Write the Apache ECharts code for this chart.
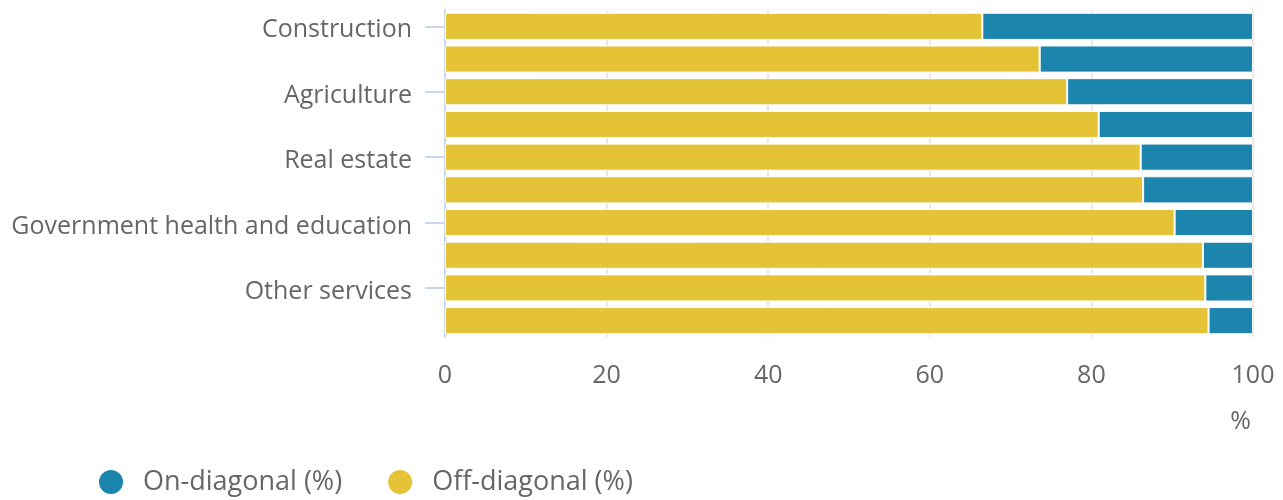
<!DOCTYPE html>
<html>
<head>
<meta charset="utf-8">
<script src="https://cdn.jsdelivr.net/npm/echarts@6/dist/echarts.min.js"></script>
<style>html,body{margin:0;padding:0;background:#fff}#c{width:1283px;height:500px}</style>
</head>
<body>
<div id="c"></div>
<script>
const categories = ['Construction','Mining','Agriculture','Manufacturing','Real estate','Transport','Government health and education','Trade','Other services','Finance'];
const offDiagonal = [66.5, 73.6, 77.0, 80.9, 86.1, 86.4, 90.3, 93.8, 94.1, 94.5];
const onDiagonal = [33.5, 26.4, 23.0, 19.1, 13.9, 13.6, 9.7, 6.2, 5.9, 5.5];
const xTicks = [0, 20, 40, 60, 80, 100];

const chart = echarts.init(document.getElementById('c'));
const font = 'Open Sans';
chart.setOption({
  animation: false,
  textStyle: { fontFamily: font },
  grid: { left: 445, right: 30, top: 10, bottom: 163, containLabel: false },
  legend: {
    left: 97, top: 468, padding: 0,
    itemWidth: 26, itemHeight: 26, itemGap: 44,
    icon: 'circle',
    data: ['On-diagonal (%)', 'Off-diagonal (%)'],
    textStyle: { fontFamily: font, fontSize: 27, color: '#666666', padding: [0, 0, 0, 14] }
  },
  xAxis: {
    type: 'value', min: xTicks[0], max: xTicks[xTicks.length - 1], interval: 20,
    name: '%', nameLocation: 'end', nameGap: 0,
    nameTextStyle: { fontFamily: font, fontSize: 25, color: '#666666', align: 'right', verticalAlign: 'top', padding: [72, 2, 0, 0] },
    axisLine: { show: false }, axisTick: { show: false },
    axisLabel: { fontFamily: font, fontSize: 25, color: '#666666', margin: 26 },
    splitLine: { show: true, lineStyle: { color: '#e8e8e8', width: 2 } }
  },
  yAxis: {
    type: 'category', data: categories, inverse: true,
    axisLine: { show: true, lineStyle: { color: '#ccd6eb', width: 2 } },
    axisTick: { show: true, interval: 1, alignWithLabel: true, length: 20, lineStyle: { color: '#ccd6eb', width: 2 } },
    axisLabel: {
      interval: 1, margin: 33,
      formatter: '{a|{value}}',
      rich: { a: { fontFamily: font, fontSize: 25, color: '#666666', padding: [8, 0, 0, 0] } }
    }
  },
  series: [
    { name: 'Off-diagonal (%)', type: 'bar', stack: 'a', data: offDiagonal, barCategoryGap: '17%',
      itemStyle: { color: '#e4c337', borderColor: '#ffffff', borderWidth: 1 } },
    { name: 'On-diagonal (%)', type: 'bar', stack: 'a', data: onDiagonal, barCategoryGap: '17%',
      itemStyle: { color: '#1b85ad', borderColor: '#ffffff', borderWidth: 1 } }
  ]
});
</script>
</body>
</html>
